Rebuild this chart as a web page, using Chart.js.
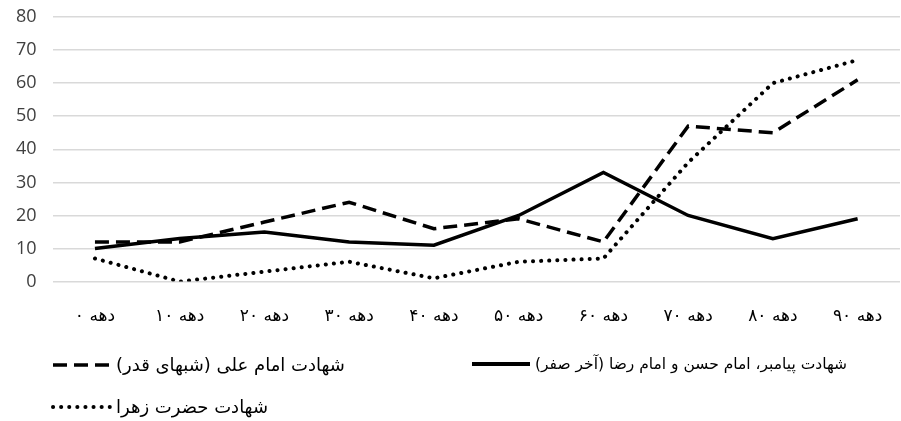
<!DOCTYPE html>
<html>
<head>
<meta charset="utf-8">
<script src="https://cdn.jsdelivr.net/npm/chart.js@4"></script>
<style>
    body { margin: 0; background: #fff; }
    #wrap { position: relative; width: 901px; height: 421px; }
    .legend-item { position: absolute; display: flex; align-items: center; font-family: "DejaVu Sans", sans-serif; font-size: 18px; color: #000; }
    .legend-item svg { display: block; margin-right: 3px; }
</style>
</head>
<body>
<div id="wrap">
    <canvas id="lineChart" width="901" height="421"></canvas>
    <div id="legend"></div>
</div>
<script>
// Decade labels on the x axis
const decades = ['دهه ۰', 'دهه ۱۰', 'دهه ۲۰', 'دهه ۳۰', 'دهه ۴۰', 'دهه ۵۰', 'دهه ۶۰', 'دهه ۷۰', 'دهه ۸۰', 'دهه ۹۰'];

// Series names
const nameAli = 'شهادت امام علی (شبهای قدر)';
const nameProphet = 'شهادت پیامبر، امام حسن و امام رضا (آخر صفر)';
const nameZahra = 'شهادت حضرت زهرا';

// Values
const aliValues = [12, 12, 18, 24, 16, 19, 12, 47, 45, 61];
const prophetValues = [10, 13, 15, 12, 11, 20, 33, 20, 13, 19];
const zahraValues = [7, 0, 3, 6, 1, 6, 7, 36, 60, 67];

const yTicks = [0, 10, 20, 30, 40, 50, 60, 70, 80];

const dashAli = [14, 7];
const dashZahra = [0.1, 8];

function createChart() {
    const ctx = document.getElementById('lineChart').getContext('2d');
    new Chart(ctx, {
        type: 'line',
        data: {
            labels: decades,
            datasets: [{
                label: nameAli,
                data: aliValues,
                borderColor: '#000',
                borderWidth: 3.5,
                borderDash: dashAli,
                pointRadius: 0,
                tension: 0
            }, {
                label: nameProphet,
                data: prophetValues,
                borderColor: '#000',
                borderWidth: 3.5,
                pointRadius: 0,
                tension: 0
            }, {
                label: nameZahra,
                data: zahraValues,
                borderColor: '#000',
                borderWidth: 4,
                borderDash: dashZahra,
                borderCapStyle: 'round',
                pointRadius: 0,
                tension: 0
            }]
        },
        options: {
            responsive: false,
            animation: false,
            layout: { padding: { top: 17, right: 1, bottom: 77, left: 0 } },
            plugins: { legend: { display: false }, tooltip: { enabled: false } },
            scales: {
                x: {
                    offset: true,
                    grid: { display: false },
                    border: { display: false },
                    ticks: { color: '#000', font: { family: 'DejaVu Sans', size: 17 }, padding: 17, maxRotation: 0 }
                },
                y: {
                    min: 0,
                    max: 80,
                    afterBuildTicks: axis => { axis.ticks = yTicks.map(v => ({ value: v })); },
                    // let the top label overhang into the layout padding
                    afterFit: axis => { axis.paddingTop = 0; },
                    grid: { color: '#d9d9d9', lineWidth: 1.5, drawTicks: false },
                    border: { display: false },
                    ticks: { color: '#404040', font: { family: 'Open Sans', size: 18 }, padding: 16 }
                }
            }
        }
    });
}

// Legend drawn as html below the plot
function buildLegend() {
    const legend = document.getElementById('legend');
    const items = [
        { name: nameAli, dash: dashAli, width: 3.5, cap: 'butt', left: 51, top: 354, size: 18 },
        { name: nameProphet, dash: [], width: 4, cap: 'butt', left: 470, top: 354, size: 15.5 },
        { name: nameZahra, dash: dashZahra, width: 4, cap: 'round', left: 51, top: 396, size: 18 }
    ];
    items.forEach(item => {
        const div = document.createElement('div');
        div.className = 'legend-item';
        div.style.left = item.left + 'px';
        div.style.top = item.top + 'px';
        div.style.fontSize = item.size + 'px';
        const svgNS = 'http://www.w3.org/2000/svg';
        const svg = document.createElementNS(svgNS, 'svg');
        svg.setAttribute('width', '62');
        svg.setAttribute('height', '20');
        const line = document.createElementNS(svgNS, 'line');
        line.setAttribute('x1', '2');
        line.setAttribute('x2', '60');
        line.setAttribute('y1', '10');
        line.setAttribute('y2', '10');
        line.setAttribute('stroke', '#000');
        line.setAttribute('stroke-width', item.width);
        line.setAttribute('stroke-linecap', item.cap);
        if (item.dash.length) line.setAttribute('stroke-dasharray', item.dash.join(' '));
        svg.appendChild(line);
        const span = document.createElement('span');
        span.dir = 'rtl';
        span.textContent = item.name;
        div.appendChild(svg);
        div.appendChild(span);
        legend.appendChild(div);
    });
}

window.onload = function() {
    createChart();
    buildLegend();
}
</script>
</body>
</html>
